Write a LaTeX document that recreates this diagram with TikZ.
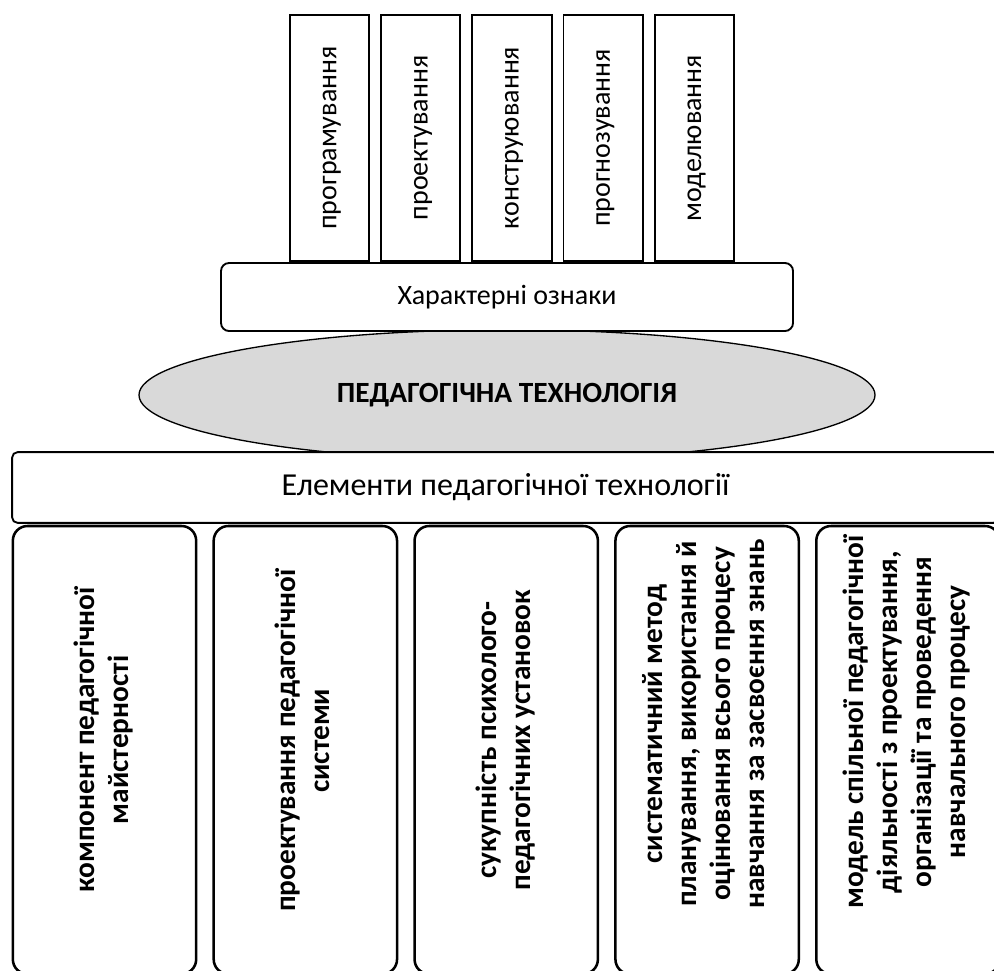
\documentclass[tikz,border=0pt]{standalone}
\usepackage{fontspec}
\setmainfont{Carlito}
\usetikzlibrary{positioning,shapes.geometric}
\definecolor{ptgray}{HTML}{D9D9D9}
\newcommand{\vtext}[1]{\rotatebox{90}{\begin{tabular}{@{}c@{}}#1\end{tabular}}}

\begin{document}
\begin{tikzpicture}[
  x=0.75pt, y=-0.75pt,
  node distance=7.5pt and 7.5pt,
  sign/.style={draw,line width=1.4pt,minimum width=59.5pt,minimum height=184.5pt,inner sep=0pt,font=\fontsize{21}{25.5}\selectfont},
  band/.style={draw,line width=1.4pt,fill=white,rounded corners=6pt,inner sep=0pt,font=\fontsize{21}{25.5}\selectfont},
  core/.style={ellipse,draw,line width=1pt,fill=ptgray,inner sep=0pt,minimum width=552pt,minimum height=98pt,font=\bfseries\fontsize{22}{26}\selectfont},
  part/.style={draw,line width=1.9pt,rounded corners=11pt,minimum width=137.5pt,minimum height=336pt,inner sep=0pt},
  parttext/.style={inner sep=0pt,font=\bfseries\fontsize{22}{25.5}\selectfont}
]
  \useasboundingbox (0,0) rectangle (994,970);
  \clip (0,0) rectangle (994,970);
  % characteristic features
  \node[sign] (prog) at (329.5,138) {\vtext{програмування}};
  \node[sign,right=of prog] (proekt) {\vtext{проектування}};
  \node[sign,right=of proekt] (konstr) {\vtext{конструювання}};
  \node[sign,right=of konstr] (prognoz) {\vtext{прогнозування}};
  \node[sign,right=of prognoz] (model) {\vtext{моделювання}};
  % centre
  \node[core] (tech) at (507,395) {ПЕДАГОГІЧНА ТЕХНОЛОГІЯ};
  \node[band,minimum width=429pt,minimum height=51pt] (feat) at (507,297) {Характерні ознаки};
  \node[band,rounded corners=4pt,minimum width=740pt,minimum height=53pt,font=\fontsize{24}{28}\selectfont] (elem) at (505.5,487.5) {Елементи педагогічної технології};
  % elements
  \node[part] (comp) at (104.5,750) {};
  \node[part,right=11.25pt of comp] (design) {};
  \node[part,right=11.25pt of design] (attit) {};
  \node[part,right=11.25pt of attit] (method) {};
  \node[part,right=11.25pt of method] (joint) {};
  \node[parttext] (comptext) at ([yshift=7.5pt]comp.center) {\vtext{компонент педагогічної\\майстерності}};
  \node[parttext] (designtext) at ([yshift=7pt]design.center) {\vtext{проектування педагогічної\\системи}};
  \node[parttext] (attittext) at ([yshift=7.5pt]attit.center) {\vtext{сукупність психолого-\\педагогічних установок}};
  \node[parttext] (methodtext) at ([yshift=19.5pt]method.center) {\vtext{систематичний метод\\планування, використання й\\оцінювання всього процесу\\навчання за засвоєння знань}};
  \node[parttext] (jointtext) at ([yshift=21pt]joint.center) {\vtext{модель спільної педагогічної\\діяльності з проектування,\\організації та проведення\\навчального процесу}};
\end{tikzpicture}
\end{document}
